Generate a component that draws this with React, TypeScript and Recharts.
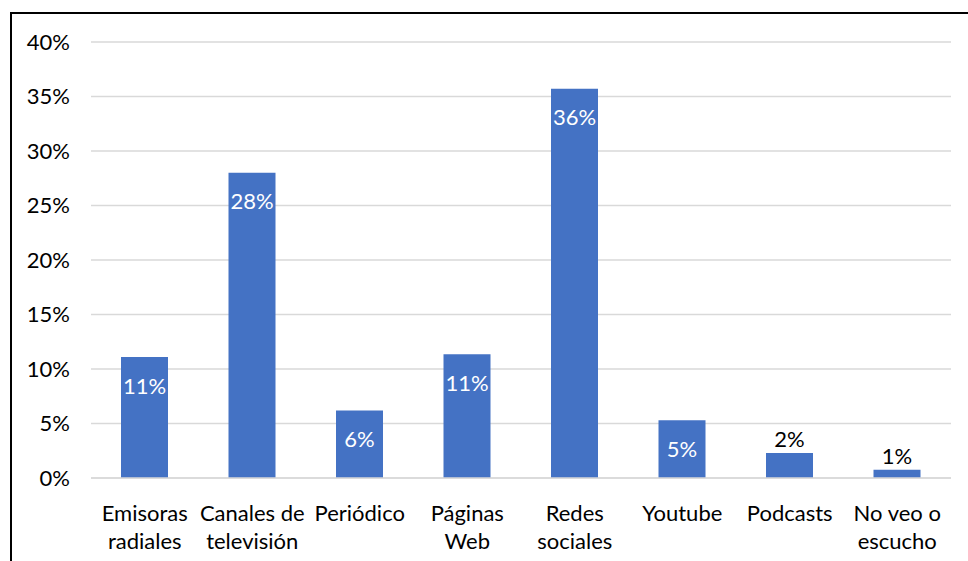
import React from "react";
import { BarChart, Bar, XAxis, YAxis, CartesianGrid, LabelList } from "recharts";

const categories = [
  "Emisoras\nradiales",
  "Canales de\ntelevisión",
  "Periódico",
  "Páginas\nWeb",
  "Redes\nsociales",
  "Youtube",
  "Podcasts",
  "No veo o\nescucho",
];
const values = [11.1, 28.0, 6.2, 11.35, 35.7, 5.3, 2.3, 0.75];
const yTicks = [0, 5, 10, 15, 20, 25, 30, 35, 40];

const data = categories.map((c, i) => ({ name: c, value: values[i] }));

const FONT = "Lato, 'Open Sans', sans-serif";
const FS = 22;

const XTick = (props: any) => {
  const { x, y, payload } = props;
  const lines = String(payload.value).split("\n");
  return (
    <g>
      {lines.map((l: string, i: number) => (
        <text
          key={i}
          x={x}
          y={y + 26 + i * 28}
          textAnchor="middle"
          dominantBaseline="central"
          fontSize={FS}
          fontFamily={FONT}
          fill="#000"
        >
          {l}
        </text>
      ))}
    </g>
  );
};

const BarLabel = (props: any) => {
  const { x, y, width, value } = props;
  const txt = Math.round(Number(value)) + "%";
  const inside = Number(value) >= 4;
  return (
    <text
      x={x + width / 2}
      y={inside ? y + 28 : y - 14}
      textAnchor="middle"
      dominantBaseline="central"
      fontSize={FS}
      fontFamily={FONT}
      fill={inside ? "#ffffff" : "#000000"}
    >
      {txt}
    </text>
  );
};

export default function App() {
  return (
    <div style={{ position: "absolute", left: 0, top: 0, width: 968, height: 561, background: "#fff" }}>
      <div
        style={{
          position: "absolute",
          left: 10,
          top: 12,
          width: 958,
          height: 549,
          borderLeft: "2px solid #000",
          borderTop: "2px solid #000",
          boxSizing: "border-box",
        }}
      />
      <div style={{ position: "absolute", left: 0, top: 0 }}>
        <BarChart
          width={968}
          height={561}
          data={data}
          margin={{ top: 42, right: 17, bottom: 0, left: 0 }}
          barSize={47}
        >
          <CartesianGrid vertical={false} stroke="#d9d9d9" strokeWidth={1.5} />
          <XAxis
            dataKey="name"
            axisLine={{ stroke: "#d9d9d9", strokeWidth: 1.5 }}
            tickLine={false}
            height={83}
            interval={0}
            tick={<XTick />}
          />
          <YAxis
            domain={[0, 40]}
            ticks={yTicks}
            width={91}
            axisLine={false}
            tickLine={false}
            tickSize={6}
            tickMargin={15}
            tickFormatter={(v: number) => v + "%"}
            tick={{ fontSize: FS, fontFamily: FONT, fill: "#000" }}
          />
          <Bar dataKey="value" fill="#4472c4" isAnimationActive={false}>
            <LabelList dataKey="value" content={<BarLabel />} />
          </Bar>
        </BarChart>
      </div>
    </div>
  );
}
